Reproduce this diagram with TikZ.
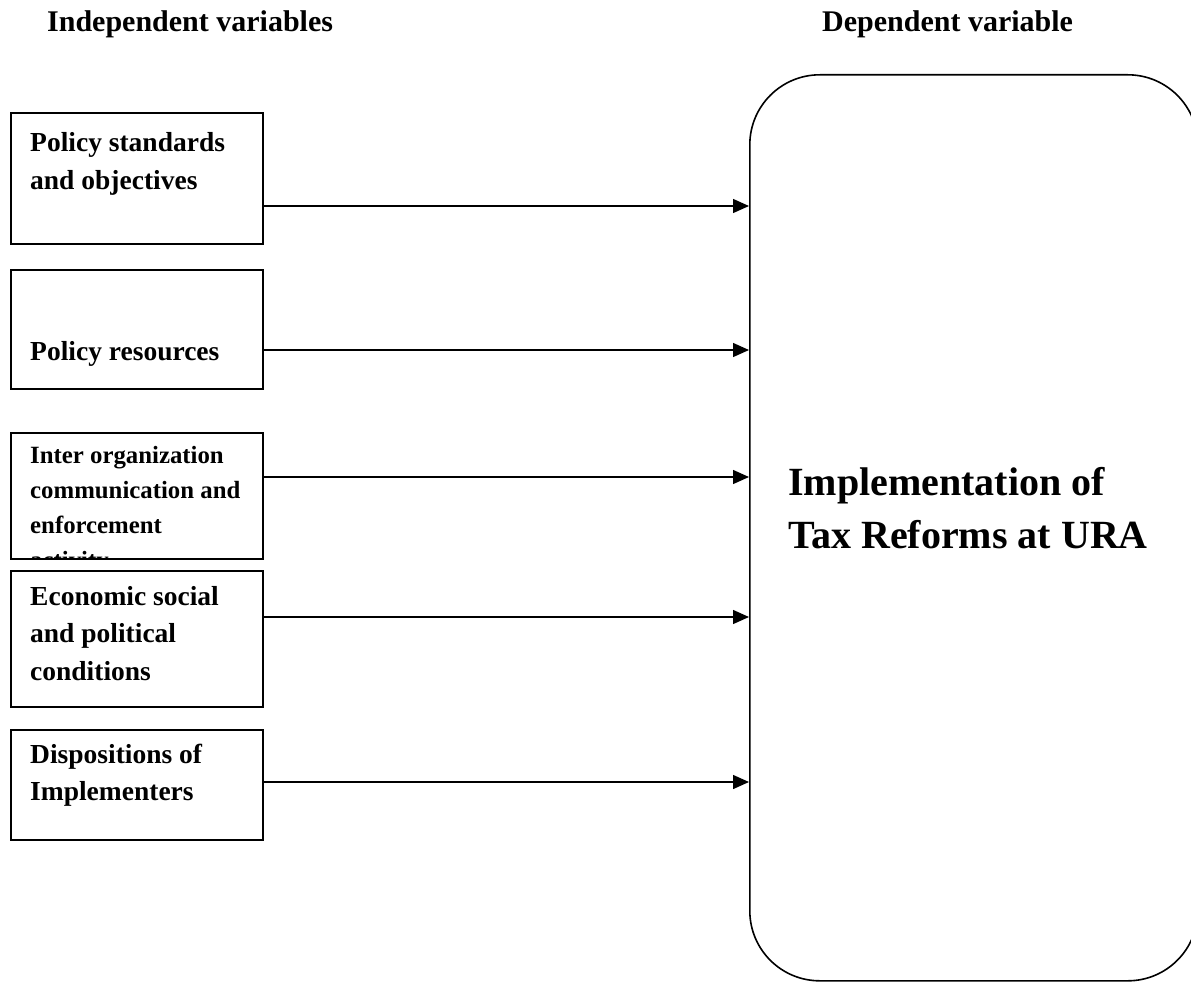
\documentclass[tikz,border=0pt]{standalone}
\usepackage{fontspec}
\setmainfont{Liberation Serif}
\usetikzlibrary{arrows.meta}
\begin{document}
\begin{tikzpicture}[x=1pt,y=-1pt,
  ivbox/.style={draw, line width=1.6pt, rectangle, anchor=north west, inner sep=0pt, minimum width=252pt},
  boxtext/.style={anchor=base west, inner sep=0pt, align=left, font=\bfseries\fontsize{27.5}{37.5}\selectfont},
  head/.style={anchor=base west, inner sep=0pt, font=\bfseries\fontsize{30}{36}\selectfont},
  arr/.style={line width=1.4pt, -{Triangle[length=16pt, width=14pt]}}]
\useasboundingbox (0,0) rectangle (1191,982);

% headers
\node[head] (hi) at (47,32) {Independent variables};
\node[head] (hd) at (822,32) {Dependent variable};

% dependent box
\node[draw, line width=1.6pt, rounded corners=70pt, anchor=north west, inner sep=0pt,
      minimum width=448pt, minimum height=906pt] (dep) at (749,74) {};
% (base anchor of a multi-line node = baseline of its last line)
\node[anchor=base west, inner sep=0pt, align=left,
      font=\bfseries\fontsize{40}{53}\selectfont] (dept) at (788,548)
      {Implementation of\\Tax Reforms at URA};

% independent boxes
\node[ivbox, minimum height=131pt] (b1) at (10,112) {};
\node[ivbox, minimum height=119pt] (b2) at (10,269) {};
\node[ivbox, minimum height=126pt] (b3) at (10,432) {};
\node[ivbox, minimum height=136pt] (b4) at (10,570) {};
\node[ivbox, minimum height=110pt] (b5) at (10,729) {};

\node[boxtext] (t1) at (30,189) {Policy standards\\and objectives};
\node[boxtext] (t2) at (30,360) {Policy resources};
\begin{scope}
  \clip (b3.north west) rectangle (b3.south east);
  \node[boxtext, font=\bfseries\fontsize{24.8}{35}\selectfont] (t3) at (30,568)
    {Inter organization\\communication and\\enforcement\\activity};
\end{scope}
\node[boxtext] (t4) at (30,680) {Economic social\\and political\\conditions};
\node[boxtext] (t5) at (30,800.5) {Dispositions of\\Implementers};

% arrows
\coordinate (a1) at (262,206);
\coordinate (a2) at (262,350);
\coordinate (a3) at (262,477);
\coordinate (a4) at (262,617);
\coordinate (a5) at (262,782);
\foreach \i in {1,...,5}{
  \draw[arr] (a\i) -- (a\i -| dep.west);
}
\end{tikzpicture}
\end{document}
